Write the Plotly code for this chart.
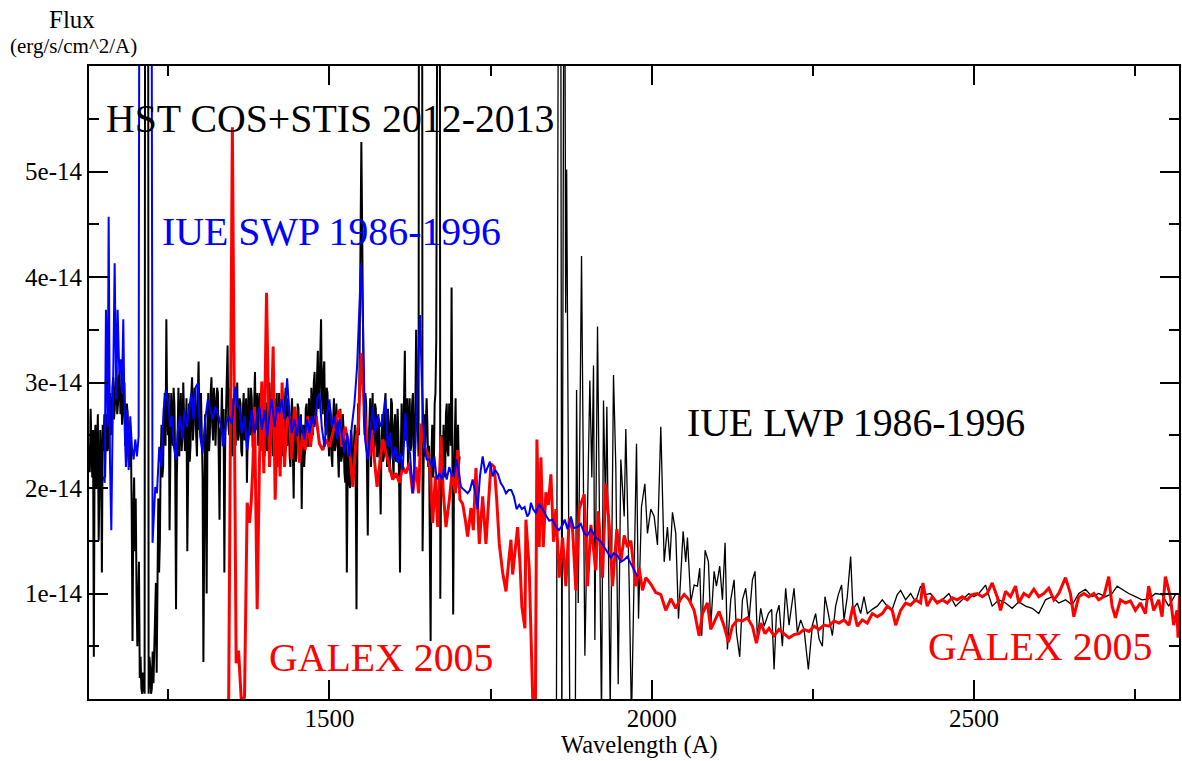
import numpy as np
import plotly.graph_objects as go

# All flux lists are in units of 1e-14 erg/s/cm^2/A
FLUX_UNIT = 1e-14

# HST COS+STIS 2012-2013, sampled every 1.25 A from 1127 A
HST_WAVE_START = 1127.0
HST_WAVE_STEP = 1.25
hst_flux = [
    2.40, 2.15, 2.75, 2.30, 2.10, 2.55, 0.40, 2.45, 2.60, 2.00, 2.25, 2.70, 1.50, 2.20, 2.55, 2.30, 1.20, 2.60, 2.35, 2.70,
    2.10, 2.55, 2.70, 2.35, 2.40, 2.85, 2.90, 2.50, 2.60, 2.95, 3.05, 2.65, 2.75, 3.00, 3.15, 2.70, 2.80, 3.05, 3.10, 2.70,
    2.95, 2.60, 2.70, 2.95, 3.00, 2.40, 2.50, 2.80, 2.70, 2.30, 2.20, 2.60, 2.45, 1.80, 0.55, 1.70, 2.10, 1.40, 1.90, 1.00,
    0.50, 0.90, 1.30, 0.20, 0.40, 0.10, 0.05, 0.25, 0.10, 0.05, 12.0, 12.0, 12.0, 12.0, 0.05, 0.40, 0.30, 0.05, 0.10, 0.45,
    0.15, 0.40, 0.70, 1.10, 0.25, 1.40, 1.90, 1.20, 1.50, 2.30, 2.60, 2.10, 2.20, 2.70, 2.90, 2.40, 3.60, 2.70, 2.50, 2.90,
    1.60, 2.30, 2.90, 2.50, 2.40, 2.95, 2.80, 2.20, 0.85, 2.10, 2.60, 2.95, 2.30, 2.70, 2.90, 2.35, 2.50, 3.00, 2.75, 2.35,
    2.50, 2.85, 1.40, 2.40, 2.80, 2.25, 2.40, 2.90, 3.05, 2.45, 2.60, 2.95, 2.90, 2.50, 2.30, 2.85, 3.20, 2.55, 2.60, 2.90,
    2.40, 2.10, 0.35, 2.20, 2.70, 2.30, 1.00, 2.50, 2.90, 2.35, 2.50, 2.90, 3.05, 2.60, 2.45, 2.95, 2.85, 2.40, 2.60, 2.95,
    2.90, 2.45, 1.70, 2.55, 2.60, 2.95, 2.40, 2.75, 1.20, 2.40, 2.70, 2.90, 3.35, 2.60, 2.50, 2.95, 2.80, 2.40, 2.30, 2.85,
    2.70, 2.95, 2.40, 2.80, 3.00, 2.45, 2.50, 2.85, 2.80, 2.35, 2.30, 2.75, 2.90, 2.45, 2.60, 2.85, 2.05, 2.50, 2.95, 2.55,
    2.50, 2.95, 2.85, 2.40, 2.35, 2.80, 3.10, 2.55, 2.60, 2.90, 2.40, 2.75, 2.90, 2.35, 2.50, 2.85, 2.75, 2.40, 2.30, 2.80,
    2.80, 2.35, 2.45, 2.90, 3.00, 2.40, 2.55, 2.95, 2.30, 2.70, 2.85, 2.35, 2.60, 2.90, 2.20, 2.65, 2.90, 2.40, 2.50, 2.85,
    2.70, 2.30, 2.35, 2.80, 2.95, 2.50, 2.40, 2.85, 2.75, 2.30, 2.20, 2.70, 2.85, 2.35, 1.90, 2.55, 2.60, 2.25, 2.40, 2.80,
    2.75, 2.40, 2.25, 2.70, 1.80, 2.45, 2.60, 2.20, 2.35, 2.75, 2.80, 2.40, 2.40, 2.85, 2.70, 2.45, 2.95, 2.60, 2.50, 3.00,
    3.10, 2.70, 2.60, 3.05, 3.30, 2.75, 2.80, 3.25, 3.60, 2.90, 2.70, 3.10, 3.20, 2.60, 2.50, 2.95, 2.90, 2.45, 2.30, 2.75,
    2.70, 2.30, 2.20, 2.65, 2.85, 2.35, 2.40, 2.80, 2.60, 2.25, 2.10, 2.55, 2.75, 2.25, 2.30, 2.70, 2.55, 2.15, 2.05, 2.45,
    1.20, 2.10, 2.40, 2.05, 2.00, 2.55, 2.50, 2.10, 2.15, 2.45, 2.60, 2.05, 0.85, 2.30, 2.80, 2.50, 3.60, 4.40, 5.28, 4.50,
    3.40, 2.70, 2.50, 2.90, 2.80, 2.30, 1.55, 2.40, 2.60, 2.85, 2.20, 2.65, 2.90, 2.35, 2.40, 2.80, 2.75, 2.30, 2.30, 2.70,
    2.60, 2.20, 1.75, 2.40, 2.70, 2.25, 2.30, 2.80, 2.90, 2.40, 2.20, 2.75, 2.60, 2.15, 2.35, 2.85, 2.80, 2.30, 2.10, 2.60,
    2.70, 2.25, 2.30, 2.75, 2.50, 2.00, 1.20, 2.35, 2.80, 2.30, 2.40, 2.85, 3.30, 2.45, 2.50, 2.85, 2.20, 2.60, 2.85, 2.35,
    2.40, 2.80, 2.90, 2.35, 2.20, 2.75, 3.50, 2.60, 2.60, 2.30, 12.0, 12.0, 12.0, 12.0, 1.40, 2.45, 2.70, 2.30, 2.50, 2.85,
    2.60, 2.20, 2.40, 1.20, 0.55, 2.30, 2.60, 2.10, 2.20, 2.80, 2.90, 3.40, 12.0, 12.0, 12.0, 12.0, 0.95, 2.20, 2.50, 2.10,
    2.60, 2.25, 2.10, 2.70, 2.80, 2.35, 2.30, 2.80, 2.70, 2.40, 3.90, 2.30, 0.80, 2.10, 2.50, 2.85, 2.00, 2.40, 2.60, 2.20,
    2.30,
]

# IUE SWP 1986-1996
swp_wave = [
    1149.7, 1151.3, 1153.3, 1155.9, 1157.5, 1159.5, 1161.6, 1163.7, 1166.8, 1169.3,
    1171.4, 1174.0, 1176.6, 1178.1, 1180.2, 1182.3, 1184.3, 1186.4, 1188.5, 1191.0,
    1193.6, 1196.2, 1198.8, 1201.4, 1204.0, 1205.5, 1223.6, 1225.6, 1229.8, 1232.4,
    1236.0, 1239.1, 1242.7, 1246.3, 1250.5, 1253.0, 1255.6, 1258.7, 1261.8, 1264.9,
    1268.5, 1272.2, 1275.3, 1278.9, 1282.5, 1285.6, 1289.2, 1292.8, 1295.9, 1299.5,
    1303.2, 1307.3, 1311.4, 1315.0, 1318.7, 1322.8, 1328.0, 1332.1, 1335.7, 1339.3,
    1343.5, 1348.6, 1353.8, 1357.4, 1360.5, 1364.1, 1368.3, 1372.4, 1376.0, 1379.6,
    1383.8, 1387.9, 1391.5, 1395.1, 1399.3, 1403.4, 1407.0, 1410.6, 1414.8, 1418.9,
    1422.5, 1426.1, 1430.3, 1434.4, 1438.0, 1441.6, 1445.8, 1449.9, 1453.5, 1457.1,
    1461.3, 1465.4, 1469.0, 1472.6, 1476.8, 1480.9, 1484.5, 1488.1, 1492.3, 1496.4,
    1500.0, 1503.6, 1507.8, 1511.9, 1515.5, 1519.1, 1523.3, 1527.4, 1531.0, 1534.6,
    1538.8, 1542.9, 1546.5, 1549.1, 1552.2, 1555.3, 1559.4, 1563.6, 1567.2, 1570.8,
    1574.9, 1580.1, 1582.7, 1586.8, 1590.4, 1594.0, 1598.2, 1602.3, 1605.9, 1609.5,
    1613.7, 1617.8, 1621.4, 1625.0, 1629.2, 1633.3, 1636.9, 1640.5, 1643.6, 1647.3,
    1650.9, 1655.0, 1659.1, 1662.8, 1666.4, 1670.5, 1674.6, 1678.3, 1681.9, 1686.0,
    1690.1, 1693.8, 1697.4, 1701.5, 1704.1, 1709.3, 1714.4, 1718.0, 1722.2, 1726.3,
    1729.9, 1733.5, 1737.7, 1741.8, 1745.4, 1749.0, 1753.2, 1757.3, 1761.5, 1765.6,
    1769.7, 1773.9, 1778.0, 1782.1, 1786.2, 1790.4, 1794.5, 1798.6, 1802.8, 1806.9,
    1810.0, 1812.6, 1816.0, 1820.3, 1825.0, 1830.7, 1836.0, 1841.0, 1846.0, 1851.3,
    1856.0, 1861.7, 1865.0, 1869.4, 1874.6, 1879.0, 1884.9, 1890.0, 1895.3, 1900.0,
    1905.6, 1909.0, 1913.3, 1920.0, 1926.3, 1931.0, 1936.6, 1941.0, 1946.9, 1952.0,
    1957.3, 1962.0, 1967.6, 1972.0, 1978.0,
]
swp_flux = [
    2.11, 2.05, 3.69, 2.58, 4.57, 2.27, 1.60, 2.90, 4.13, 2.84,
    3.69, 3.09, 3.22, 2.90, 3.60, 2.58, 2.20, 2.74, 2.17, 2.68,
    2.39, 2.27, 2.46, 2.30, 2.49, 9.00, 9.00, 1.48, 2.01, 1.95,
    2.39, 2.20, 2.74, 2.93, 2.77, 2.58, 2.68, 2.39, 2.27, 2.55,
    2.68, 2.46, 2.74, 2.58, 2.77, 2.90, 2.65, 2.96, 2.99, 2.49,
    2.33, 2.65, 2.84, 2.74, 2.65, 2.77, 2.68, 2.58, 2.39, 2.61,
    2.68, 2.61, 2.96, 2.77, 2.77, 2.52, 2.68, 2.36, 2.58, 2.74,
    2.52, 2.68, 2.77, 2.55, 2.74, 2.49, 2.71, 2.84, 2.58, 2.77,
    2.71, 2.84, 2.65, 3.04, 2.68, 2.52, 2.65, 2.49, 2.68, 2.58,
    2.46, 2.65, 2.52, 2.68, 2.58, 2.84, 2.90, 2.58, 2.39, 2.71,
    2.84, 2.58, 2.68, 2.46, 2.65, 2.52, 2.33, 2.52, 2.30, 2.58,
    2.80, 3.15, 3.85, 4.13, 3.53, 2.46, 2.27, 2.58, 2.77, 2.52,
    2.68, 2.58, 2.65, 2.84, 2.39, 2.52, 2.27, 2.39, 2.24, 2.33,
    2.17, 2.71, 2.39, 2.33, 1.95, 2.39, 2.96, 3.64, 2.96, 2.39,
    2.27, 2.27, 2.20, 2.30, 2.08, 2.14, 2.08, 2.20, 2.08, 2.20,
    2.11, 2.14, 2.27, 2.08, 2.01, 1.98, 1.95, 1.98, 2.08, 1.95,
    1.80, 2.11, 2.30, 2.14, 2.20, 2.25, 2.11, 2.17, 2.13, 2.05,
    2.01, 1.95, 1.98, 1.98, 1.92, 1.80, 1.84, 1.80, 1.82, 1.73,
    1.76, 1.86, 1.80, 1.76, 1.85, 1.80, 1.74, 1.69, 1.70, 1.63,
    1.60, 1.65, 1.70, 1.61, 1.73, 1.62, 1.63, 1.66, 1.57, 1.55,
    1.61, 1.58, 1.53, 1.50, 1.44, 1.40, 1.34, 1.38, 1.36, 1.30,
    1.32, 1.35, 1.28, 1.24, 1.16,
]

# GALEX 2005 (FUV + NUV)
galex_wave = [
    1343.5, 1349.4, 1355.3, 1359.0, 1364.1, 1368.3, 1372.4, 1376.0, 1378.6, 1381.2,
    1383.8, 1387.9, 1391.5, 1395.1, 1398.2, 1402.4, 1407.0, 1409.6, 1412.7, 1415.8,
    1420.0, 1423.5, 1426.6, 1430.3, 1434.4, 1438.0, 1441.6, 1445.8, 1449.9, 1453.5,
    1458.7, 1462.3, 1466.4, 1470.6, 1474.2, 1479.3, 1484.5, 1489.7, 1494.8, 1500.0,
    1505.2, 1510.3, 1515.5, 1519.1, 1524.3, 1528.4, 1532.6, 1536.2, 1541.3, 1544.9,
    1549.1, 1554.3, 1558.4, 1562.0, 1565.6, 1569.8, 1573.9, 1577.5, 1582.7, 1587.8,
    1593.0, 1598.2, 1603.3, 1608.5, 1613.7, 1618.8, 1624.0, 1629.2, 1634.3, 1638.5,
    1642.1, 1647.3, 1652.4, 1656.0, 1660.2, 1664.3, 1667.9, 1673.1, 1676.7, 1680.8,
    1686.0, 1690.1, 1695.3, 1698.9, 1702.5, 1706.7, 1710.8, 1714.4, 1719.6, 1723.2,
    1727.3, 1732.5, 1737.7, 1742.8, 1750.6, 1755.8, 1759.4, 1763.5, 1768.7, 1773.9,
    1778.0, 1781.6, 1784.2, 1788.3, 1791.9, 1795.5, 1798.6, 1803.3, 1804.8, 1810.0,
    1812.6, 1816.7, 1819.3, 1821.9, 1825.5, 1828.1, 1831.7, 1835.8, 1839.5, 1843.6,
    1847.7, 1851.3, 1856.5, 1861.7, 1866.8, 1872.0, 1877.2, 1882.3, 1887.5, 1895.3,
    1900.4, 1905.6, 1913.3, 1917.0, 1923.7, 1928.8, 1934.0, 1939.2, 1945.9, 1952.1,
    1957.3, 1962.4, 1967.6, 1975.3, 1980.5, 1985.7, 1990.9, 1998.6, 2006.3, 2014.1,
    2021.8, 2029.6, 2037.3, 2045.1, 2050.3, 2058.0, 2065.8, 2073.5, 2078.7, 2086.4,
    2091.6, 2099.3, 2104.5, 2112.3, 2119.0, 2125.2, 2132.9, 2140.7, 2148.4, 2156.2,
    2162.4, 2169.1, 2175.8, 2182.0, 2189.8, 2197.5, 2205.3, 2213.0, 2220.8, 2228.5,
    2236.3, 2244.0, 2251.8, 2259.5, 2267.3, 2275.0, 2282.8, 2290.5, 2298.3, 2306.0,
    2312.2, 2318.9, 2326.7, 2334.4, 2342.2, 2349.9, 2357.7, 2365.4, 2373.2, 2378.4,
    2386.1, 2393.9, 2401.6, 2409.4, 2417.1, 2420.7, 2427.4, 2435.2, 2442.9, 2450.7,
    2458.4, 2466.2, 2473.9, 2481.7, 2489.4, 2497.2, 2504.9, 2512.7, 2520.4, 2528.2,
    2535.9, 2541.1, 2548.9, 2556.6, 2564.4, 2569.5, 2577.3, 2585.0, 2592.8, 2600.5,
    2608.3, 2616.0, 2623.8, 2631.5, 2641.9, 2649.6, 2654.8, 2662.5, 2670.3, 2678.0,
    2685.8, 2693.5, 2701.3, 2709.0, 2714.2, 2719.4, 2727.1, 2734.9, 2742.6, 2750.4,
    2758.1, 2765.9, 2771.0, 2778.8, 2786.5, 2791.7, 2796.9, 2804.6, 2809.7, 2814.9,
    2816.5, 2819.0,
]
galex_flux = [
    -0.20, 5.42, 0.34, 0.46, -0.10, 0.03, 1.86, 1.67, 1.86, 2.20,
    2.77, 0.85, 2.27, 3.01, 2.14, 3.85, 2.20, 2.58, 3.34, 1.89,
    2.77, 2.11, 3.00, 2.20, 2.65, 2.68, 2.27, 2.77, 2.58, 2.24,
    2.52, 2.36, 2.68, 2.39, 2.58, 2.68, 2.42, 2.36, 2.46, 2.39,
    2.52, 2.65, 2.74, 2.39, 2.58, 2.46, 2.27, 2.01, 2.46, 2.58,
    3.28, 2.71, 2.36, 2.30, 2.55, 2.27, 2.01, 2.20, 2.46, 2.33,
    2.20, 2.08, 2.14, 2.05, 2.20, 2.14, 2.24, 1.95, 2.20, 1.95,
    2.61, 2.39, 2.33, 2.20, 1.67, 2.11, 1.63, 2.49, 1.95, 1.63,
    1.89, 2.14, 1.95, 2.36, 1.89, 1.85, 1.70, 1.54, 1.81, 1.60,
    2.19, 1.47, 1.92, 1.47, 2.23, 2.20, 1.90, 1.47, 1.20, 1.02,
    1.30, 1.51, 1.18, 1.45, 1.63, 1.30, 0.87, 0.67, 1.70, 1.23,
    0.70, -0.30, -0.30, 2.46, 1.44, 2.29, 1.44, 1.96, 1.84, 2.13,
    1.49, 1.80, 1.15, 1.53, 1.07, 1.71, 1.61, 1.03, 1.80, 1.94,
    1.07, 1.65, 1.22, 1.78, 1.15, 2.04, 1.65, 1.07, 1.61, 1.30,
    1.55, 1.44, 1.50, 1.07, 1.24, 1.03, 1.15, 1.09, 1.01, 0.99,
    0.84, 0.95, 0.86, 0.95, 0.99, 0.94, 0.84, 0.60, 0.81, 0.91,
    0.66, 0.77, 0.83, 0.69, 0.54, 0.69, 0.75, 0.74, 0.77, 0.69,
    0.53, 0.72, 0.62, 0.67, 0.60, 0.66, 0.62, 0.58, 0.61, 0.62,
    0.66, 0.64, 0.69, 0.66, 0.70, 0.69, 0.74, 0.72, 0.75, 0.70,
    0.88, 0.69, 0.75, 0.72, 0.81, 0.78, 0.81, 0.88, 0.84, 0.70,
    0.84, 0.91, 0.89, 0.94, 0.91, 1.10, 0.88, 0.97, 0.91, 0.94,
    0.91, 0.96, 0.94, 0.97, 0.94, 0.99, 1.00, 0.97, 1.00, 1.10,
    0.97, 0.84, 1.02, 0.97, 1.07, 0.91, 1.00, 0.97, 1.04, 0.97,
    1.00, 1.05, 0.94, 1.00, 1.15, 1.00, 0.78, 0.97, 1.00, 0.97,
    1.00, 0.94, 0.97, 1.16, 0.88, 0.77, 0.94, 0.91, 0.93, 0.84,
    0.91, 0.81, 1.07, 0.84, 0.94, 0.78, 1.16, 0.97, 0.70, 0.84,
    0.58, 1.00,
]

# IUE LWP 1986-1996
lwp_wave = [
    1852.0, 1856.0, 1858.5, 1860.5, 1864.5, 1866.5, 1868.0, 1873.0, 1881.5, 1883.4,
    1886.0, 1891.1, 1896.3, 1904.0, 1907.1, 1909.7, 1911.8, 1915.9, 1922.1, 1925.2,
    1928.3, 1930.4, 1935.6, 1940.7, 1944.3, 1948.0, 1952.1, 1957.3, 1959.8, 1965.0,
    1968.6, 1976.4, 1979.5, 1984.1, 1989.3, 1993.4, 1998.6, 2003.8, 2008.9, 2014.1,
    2019.3, 2024.4, 2028.1, 2032.2, 2037.3, 2041.5, 2048.7, 2052.8, 2055.4, 2060.6,
    2065.8, 2070.9, 2074.5, 2077.6, 2082.8, 2088.0, 2091.6, 2096.8, 2100.4, 2105.5,
    2109.7, 2113.8, 2117.4, 2122.6, 2127.8, 2131.4, 2136.5, 2140.7, 2145.8, 2151.0,
    2156.2, 2160.3, 2163.9, 2169.1, 2174.3, 2181.0, 2186.1, 2189.8, 2193.4, 2197.5,
    2202.7, 2207.8, 2213.0, 2220.8, 2225.9, 2231.1, 2236.3, 2243.0, 2249.2, 2254.3,
    2259.5, 2264.7, 2268.8, 2274.0, 2280.2, 2285.3, 2289.5, 2294.6, 2298.3, 2303.4,
    2308.6, 2312.2, 2318.9, 2324.1, 2329.3, 2334.4, 2342.2, 2349.9, 2357.7, 2365.4,
    2373.2, 2380.9, 2386.1, 2393.9, 2401.6, 2409.4, 2417.1, 2424.9, 2432.6, 2440.4,
    2450.7, 2461.0, 2471.4, 2481.7, 2492.0, 2499.8, 2507.5, 2517.9, 2528.2, 2538.5,
    2548.9, 2559.2, 2569.5, 2579.9, 2590.2, 2600.5, 2610.9, 2621.2, 2631.5, 2641.9,
    2652.2, 2662.5, 2672.9, 2683.2, 2693.5, 2703.9, 2714.2, 2722.0, 2729.7, 2740.0,
    2750.4, 2760.7, 2771.0, 2781.4, 2791.7, 2802.0, 2812.4, 2820.0,
]
lwp_flux = [
    -0.50, 9.00, 9.00, -0.50, 9.00, 3.66, 5.02, -0.30, -0.20, 2.93,
    0.91, 4.20, 0.41, 3.02, 2.10, 3.16, 0.56, 3.53, -0.20, 2.83,
    1.80, 2.77, -0.10, 3.07, 2.20, 0.14, 2.27, 1.73, 2.56, 1.10,
    -0.20, 2.42, 0.76, 1.82, 2.04, 1.57, 1.80, 1.73, 1.46, 2.58,
    1.30, 1.63, 1.31, 1.77, 1.57, 0.76, 1.59, 1.30, 1.53, 0.92,
    1.08, 1.07, 1.24, 0.60, 1.41, 1.30, 0.69, 1.21, 1.07, 1.26,
    0.94, 1.48, 0.47, 0.94, 1.13, 0.63, 0.40, 0.94, 1.05, 0.75,
    1.13, 1.21, 0.57, 0.86, 0.69, 0.81, 0.85, 0.28, 0.80, 0.89,
    0.50, 1.05, 0.70, 1.05, 0.63, 0.75, 0.66, 0.28, 0.70, 0.81,
    0.57, 0.50, 0.97, 0.81, 0.60, 0.88, 0.99, 1.08, 0.75, 0.97,
    1.35, 0.85, 0.91, 0.81, 0.97, 0.81, 0.85, 0.88, 0.94, 0.88,
    0.85, 0.99, 1.03, 0.94, 1.00, 0.92, 1.07, 0.99, 1.00, 0.92,
    0.94, 1.00, 0.88, 0.94, 1.00, 0.97, 1.00, 1.08, 0.88, 0.94,
    0.91, 0.86, 0.92, 0.88, 0.86, 0.81, 0.94, 0.97, 0.91, 0.94,
    0.89, 1.00, 1.04, 0.97, 1.00, 0.97, 1.00, 1.07, 1.04, 1.00,
    0.97, 0.94, 0.95, 1.00, 0.99, 0.88, 0.99, 1.00,
]

# Axis ticks
x_major = [1500, 2000, 2500]
x_minor = [1250, 1750, 2250, 2750]
y_major = [1, 2, 3, 4, 5]
y_minor = [0.5, 1.5, 2.5, 3.5, 4.5, 5.5]
y_labels = ["1e-14", "2e-14", "3e-14", "4e-14", "5e-14"]

SERIF = "Liberation Serif, Times New Roman, serif"

hst_wave = HST_WAVE_START + HST_WAVE_STEP * np.arange(len(hst_flux))


def scaled(vals):
    return np.asarray(vals, dtype=float) * FLUX_UNIT


fig = go.Figure()
fig.add_trace(go.Scatter(x=hst_wave, y=scaled(hst_flux), mode="lines",
                         line=dict(color="black", width=2.0), name="HST"))
fig.add_trace(go.Scatter(x=lwp_wave, y=scaled(lwp_flux), mode="lines",
                         line=dict(color="black", width=1.3), name="IUE LWP"))
fig.add_trace(go.Scatter(x=galex_wave, y=scaled(galex_flux), mode="lines",
                         line=dict(color="#ff0000", width=3), name="GALEX"))
fig.add_trace(go.Scatter(x=swp_wave, y=scaled(swp_flux), mode="lines",
                         line=dict(color="#0000ff", width=2), name="IUE SWP"))

labels = [
    ("HST COS+STIS 2012-2013", 1151, 5.50, "black"),
    ("IUE SWP 1986-1996", 1237, 4.43, "#0000ff"),
    ("IUE LWP 1986-1996", 2051, 2.62, "black"),
    ("GALEX 2005", 1403, 0.39, "#ff0000"),
    ("GALEX 2005", 2426, 0.49, "#ff0000"),
]
for text, lx, ly, col in labels:
    fig.add_annotation(x=lx, y=ly * FLUX_UNIT, text=text, showarrow=False,
                       xanchor="left", yanchor="middle",
                       font=dict(family=SERIF, size=39.8, color=col))

fig.add_annotation(xref="paper", yref="paper", x=-0.016, y=1.073, text="Flux",
                   showarrow=False, xanchor="center", yanchor="middle",
                   font=dict(family=SERIF, size=25, color="black"))
fig.add_annotation(xref="paper", yref="paper", x=-0.014, y=1.031,
                   text="(erg/s/cm^2/A)", showarrow=False,
                   xanchor="center", yanchor="middle",
                   font=dict(family=SERIF, size=21, color="black"))
fig.add_annotation(xref="paper", yref="paper", x=0.505, y=-0.073,
                   text="Wavelength (A)", showarrow=False,
                   xanchor="center", yanchor="middle",
                   font=dict(family=SERIF, size=24.5, color="black"))

axis_common = dict(
    showgrid=False, zeroline=False, showline=True, linecolor="black",
    linewidth=2, mirror="ticks", ticks="inside", ticklen=19, tickwidth=1.5,
    tickcolor="black", tickfont=dict(family=SERIF, size=25, color="black"),
)

fig.update_xaxes(
    range=[1127, 2818], tickmode="array", tickvals=x_major,
    ticktext=[str(v) for v in x_major], ticklabelstandoff=-4,
    minor=dict(tickmode="array", tickvals=x_minor, ticks="inside",
               ticklen=10, tickwidth=1.5, tickcolor="black"),
    **axis_common,
)
fig.update_yaxes(
    range=[0, 6 * FLUX_UNIT], tickmode="array",
    tickvals=[v * FLUX_UNIT for v in y_major], ticktext=y_labels,
    minor=dict(tickmode="array", tickvals=[v * FLUX_UNIT for v in y_minor],
               ticks="inside", ticklen=10, tickwidth=1.5, tickcolor="black"),
    **axis_common,
)

fig.update_layout(
    width=1182, height=761,
    margin=dict(l=89, r=1, t=66, b=62),
    paper_bgcolor="white", plot_bgcolor="white",
    showlegend=False,
    font=dict(family=SERIF, color="black"),
)

fig.write_html("out.html")
